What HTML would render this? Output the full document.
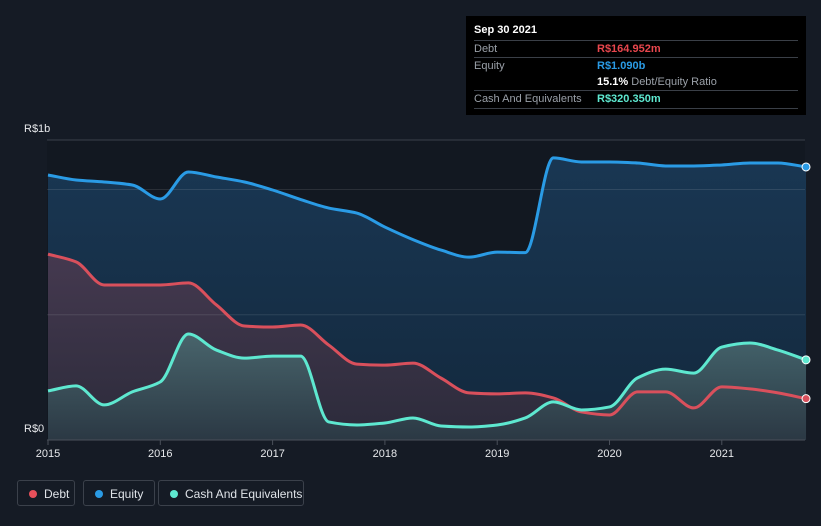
<!DOCTYPE html>
<html><head><meta charset="utf-8"><style>
body{margin:0;width:821px;height:526px;background:#151b25;font-family:"Liberation Sans",sans-serif;overflow:hidden;position:relative}
.tip{position:absolute;left:466px;top:16px;width:340px;height:99px;background:#000;color:#fff;font-size:11px}
.row{position:absolute;left:8px;width:324px;border-top:1px solid #3a3f47;height:17px;line-height:17px;color:#9aa0a8}
.row span{position:absolute;left:123px}
.leg{position:absolute;top:480px;height:26px;border:1px solid #3b414b;border-radius:3px;color:#dfe3e8;font-size:12px;line-height:26px;box-sizing:border-box;padding-left:26px}
.leg i{position:absolute;left:11px;top:9px;width:8px;height:8px;border-radius:50%}
</style></head><body>
<svg id="c" width="821" height="526" style="position:absolute;left:0;top:0">
<defs>
<linearGradient id="ge" x1="0" y1="0" x2="0" y2="1"><stop offset="0" stop-color="#1a3a58"/><stop offset="1" stop-color="#132a40"/></linearGradient>
<linearGradient id="gd" x1="0" y1="0" x2="0" y2="1"><stop offset="0" stop-color="#4a3a50"/><stop offset="1" stop-color="#2e2b3a"/></linearGradient>
<linearGradient id="gc" x1="0" y1="0" x2="0" y2="1"><stop offset="0" stop-color="#4a6a70"/><stop offset="1" stop-color="#2b3a45"/></linearGradient>
</defs>
<rect x="47" y="140" width="758" height="300" fill="#121821"/>
<g id="areas"></g><g id="grid"></g><g id="lines"></g><g id="axis"></g>
</svg>
<div class="tip">
<div style="position:absolute;left:8px;top:8px;font-weight:bold;font-size:11px">Sep 30 2021</div>
<div class="row" style="top:24px">Debt<span style="color:#e8464d;font-weight:bold">R$164.952m</span></div>
<div class="row" style="top:41px">Equity<span style="color:#2a9be5;font-weight:bold">R$1.090b</span></div>
<div class="row" style="top:58px;border-top:none"><span style="color:#fff;font-weight:bold">15.1% <b style="color:#9aa0a8;font-weight:normal">Debt/Equity Ratio</b></span></div>
<div class="row" style="top:74px;border-bottom:1px solid #3a3f47">Cash And Equivalents<span style="color:#5ee8d0;font-weight:bold">R$320.350m</span></div>
</div>
<div class="leg" style="left:17px;width:58px"><i style="background:#e8505b"></i>Debt</div>
<div class="leg" style="left:83px;width:72px"><i style="background:#2a9be5"></i>Equity</div>
<div class="leg" style="left:158px;width:146px"><i style="background:#5ee8d0"></i>Cash And Equivalents</div>
<script>
const dates=[2015,2015.25,2015.5,2015.75,2016,2016.25,2016.5,2016.75,2017,2017.25,2017.5,2017.75,2018,2018.25,2018.5,2018.75,2019,2019.25,2019.5,2019.75,2020,2020.25,2020.5,2020.75,2021,2021.25,2021.5,2021.75];
const equity=[1058,1038,1030,1018,962,1070,1050,1030,998,960,926,906,850,800,758,730,750,748,1126,1110,1110,1106,1094,1094,1098,1106,1106,1090];
const debt=[742,711,619,619,619,627,539,455,451,459,379,303,299,307,247,188,184,188,168,112,100,192,192,128,212,204,188,165];
const cash=[196,216,140,192,232,423,359,327,335,335,72,60,68,88,56,52,60,88,152,120,132,248,283,267,371,387,359,320];
const yTicks=[0,1000];const yTickLabels=["R$0","R$1b"];
const xYears=[2015,2016,2017,2018,2019,2020,2021];
const X=d=>48+(d-2015)*112.3, Y=v=>440-v*0.2505;
const NS='http://www.w3.org/2000/svg';
function mk(t,a,p){const e=document.createElementNS(NS,t);for(const k in a)e.setAttribute(k,a[k]);p.appendChild(e);return e;}
function path(vals){const p=vals.map((v,i)=>[X(dates[i]),Y(v)]);const n=p.length;
const s=[];for(let i=0;i<n-1;i++)s.push((p[i+1][1]-p[i][1])/(p[i+1][0]-p[i][0]));
const m=[];for(let i=0;i<n;i++){if(i==0)m.push(s[0]);else if(i==n-1)m.push(s[n-2]);else if(s[i-1]*s[i]<=0)m.push(0);else m.push(2/(1/s[i-1]+1/s[i]));}
let d='M'+p[0][0]+','+p[0][1];
for(let i=0;i<n-1;i++){const h=(p[i+1][0]-p[i][0])/3;
d+=`C${p[i][0]+h},${p[i][1]+m[i]*h} ${p[i+1][0]-h},${p[i+1][1]-m[i+1]*h} ${p[i+1][0]},${p[i+1][1]}`;}return d;}
const g=document.getElementById('grid'),ar=document.getElementById('areas'),ln=document.getElementById('lines'),ax=document.getElementById('axis');
[140,Y(1000),Y(500)].forEach(y=>{const l=mk('line',{x1:47,x2:805,y1:y,y2:y,stroke:y==140?'#3a404a':'rgba(255,255,255,0.1)'},g);});
const x0=X(dates[0]),x1=X(dates[dates.length-1]);
[[equity,'url(#ge)','#2a9be5','equity'],[debt,'url(#gd)','#d9505c','debt'],[cash,'url(#gc)','#5ee8d0','cash']].forEach(([v,f,c,n])=>{
const d=path(v);const a=mk('path',{d:d+`L${x1},440L${x0},440Z`,fill:f,opacity:0.9},ar);

const l=mk('path',{d:d,fill:'none',stroke:c,'stroke-width':3},ln);

const dot=mk('circle',{cx:x1,cy:Y(v[v.length-1]),r:4,fill:c,stroke:'#fff','stroke-width':1},ln);
});
const base=mk('line',{x1:47,x2:805,y1:440,y2:440,stroke:'#4a505a'},ax);
yTicks.forEach((v,i)=>{const t=mk('text',{x:24,y:i==0?432:132,fill:'#e6e8eb','font-size':11},ax);t.textContent=yTickLabels[i];});
xYears.forEach(yr=>{const x=X(yr);const tk=mk('line',{x1:x,x2:x,y1:440,y2:445,stroke:'#4a505a'},ax);
const t=mk('text',{x:x,y:457,fill:'#e6e8eb','font-size':11,'text-anchor':'middle'},ax);t.textContent=yr;});
</script>
</body></html>
